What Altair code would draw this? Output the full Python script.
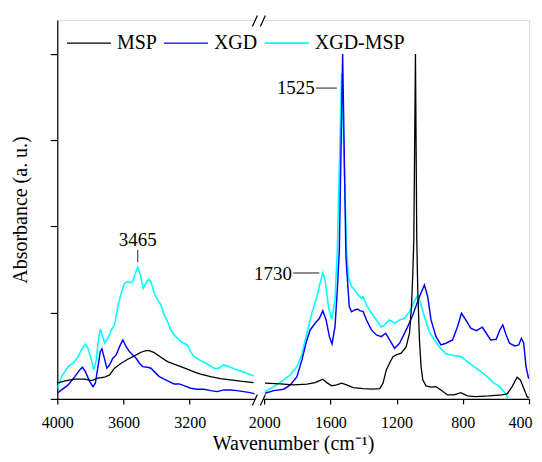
import altair as alt
import pandas as pd

FONT = "Liberation Serif"

series_names = ["MSP", "XGD", "XGD-MSP"]
series_colors = ["#000000", "#0000FF", "#00FFFF"]
series_widths = [1.3, 1.6, 1.2]

# ---- MSP ----
msp_left_wn = [4000, 3954, 3894, 3834, 3794, 3754, 3714, 3684, 3654, 3614, 3574, 3534, 3494, 3464,
               3444, 3414, 3374, 3334, 3294, 3254, 3214, 3174, 3134, 3074, 3014, 2954, 2894, 2814]
msp_left_a = [15.7, 18, 19.7, 19.7, 18.3, 20.7, 21.7, 24, 30.7, 35.7, 39.7, 43, 46.7, 48.3,
              48.3, 46.3, 41.7, 37.3, 34.7, 32.3, 29.7, 27, 24.7, 22.3, 20.3, 19, 17.7, 16.3]
msp_right_wn = [1995, 1902, 1822, 1742, 1692, 1666, 1646, 1622, 1592, 1562, 1532, 1502, 1462, 1402,
                1342, 1302, 1282, 1262, 1242, 1222, 1202, 1172, 1142, 1122, 1110, 1102, 1096, 1086,
                1078, 1072, 1062, 1052, 1042, 1022, 992, 962, 932, 892, 852, 812, 772, 722, 642,
                562, 532, 502, 472, 452, 432, 412, 402]
msp_right_a = [15.7, 15, 14, 14.7, 16.3, 18.3, 19.7, 16.3, 13, 14, 15.7, 14, 11.3, 10.3,
               9.7, 10.3, 15.7, 29, 36, 42.3, 44, 45.7, 52.3, 65.7, 92.3, 125.7, 159, 345,
               159, 109, 59, 32.3, 19, 13, 11.7, 12.3, 9, 4, 4, 6.3, 3, 2.3, 3,
               4, 5, 12.3, 21.7, 19, 10.7, 2.3, 1]

# ---- XGD ----
xgd_left_wn = [4000, 3974, 3934, 3894, 3864, 3848, 3830, 3804, 3784, 3770, 3754, 3740, 3730, 3718,
               3700, 3684, 3664, 3644, 3624, 3604, 3584, 3564, 3544, 3524, 3504, 3484, 3454, 3434,
               3414, 3384, 3354, 3324, 3294, 3264, 3234, 3194, 3154, 3114, 3074, 3034, 2994, 2954,
               2914, 2874, 2834, 2808]
xgd_left_a = [5.7, 9, 14, 22.3, 29, 31.7, 27.3, 17.3, 12.3, 15.7, 32.3, 47.3, 50, 42.3,
              30.7, 34, 40.7, 44, 52.3, 59, 52.3, 47.3, 44, 40.7, 35.7, 32.3, 31.7, 30.7,
              27.3, 22.3, 19.7, 17.3, 15, 15, 13.3, 10.7, 9.7, 9.7, 8.3, 7.3, 9, 9,
              8.3, 7.3, 6.3, 5]
xgd_right_wn = [1995, 1942, 1882, 1842, 1802, 1772, 1742, 1722, 1692, 1666, 1646, 1626, 1606, 1590,
                1572, 1558, 1546, 1526, 1506, 1486, 1472, 1452, 1436, 1422, 1402, 1382, 1352, 1322,
                1292, 1266, 1242, 1212, 1182, 1142, 1102, 1062, 1032, 1012, 992, 962, 932, 902,
                862, 832, 808, 782, 752, 718, 682, 658, 632, 598, 576, 558, 538, 518, 486, 462,
                446, 432, 418, 402]
xgd_right_a = [5.7, 8.3, 9.7, 14, 22.3, 39, 59, 69, 75.7, 80.7, 88.3, 79, 62.3, 55,
               72.3, 109, 149, 345, 142, 92.3, 87.3, 89, 90, 88.3, 87.3, 79, 69, 64,
               62.3, 65.7, 59, 50.7, 55.7, 69, 84, 102.3, 114, 102.3, 79, 62.3, 54, 55.7,
               59, 72.3, 85.7, 79, 70.7, 68.3, 71.7, 65.7, 59, 59.7, 69, 74, 64, 55.7, 53, 54,
               60.7, 55.7, 32.3, 20]

# ---- XGD-MSP ----
mix_left_wn = [4000, 3974, 3934, 3904, 3874, 3854, 3830, 3814, 3794, 3780, 3764, 3754, 3740, 3728,
               3714, 3694, 3674, 3654, 3634, 3614, 3594, 3574, 3558, 3544, 3528, 3514, 3498, 3480,
               3464, 3448, 3434, 3414, 3394, 3374, 3354, 3334, 3314, 3294, 3274, 3254, 3234, 3214,
               3194, 3174, 3134, 3094, 3054, 3024, 2994, 2964, 2924, 2884, 2844, 2814]
mix_left_a = [10.7, 22.3, 32.3, 35.7, 42.3, 49, 55, 50.7, 39, 29, 39, 55.7, 70, 64,
              55.7, 60.7, 69, 74, 92.3, 105.7, 115.7, 117.3, 116.3, 117.3, 125.7, 131.7, 124, 110.7,
              115.7, 119.7, 117.3, 105.7, 99, 94, 84, 77.3, 69, 64, 60.7, 57.3, 55.7, 54,
              47.3, 42.3, 38.3, 35, 30.7, 30.7, 34, 32.3, 29.7, 27.3, 25, 23]
mix_right_wn = [1995, 1942, 1882, 1842, 1802, 1772, 1742, 1712, 1682, 1662, 1646, 1632, 1612, 1592,
                1572, 1558, 1532, 1502, 1492, 1472, 1452, 1432, 1412, 1402, 1382, 1352, 1322, 1292,
                1272, 1246, 1222, 1212, 1182, 1152, 1122, 1098, 1078, 1058, 1032, 1002, 972, 942,
                902, 862, 812, 772, 732, 692, 652, 612, 582, 552, 526]
mix_right_a = [7.3, 12.3, 19, 24, 32.3, 44, 65.7, 85.7, 102.3, 115.7, 126.3, 119, 92.3, 79.7,
               99, 149, 326, 149, 122.3, 112.3, 109, 104, 100.7, 102.3, 94, 85.7, 79, 71.7,
               74, 79, 77.3, 75.7, 79, 80.7, 87.3, 95.7, 102.3, 97.3, 82.3, 67.3, 59, 52.3,
               45, 43.7, 42.3, 37.3, 32.3, 27.3, 22.3, 15.7, 13, 7.3, 0.7]

# annotations
ann_center_label = ["3465"]
ann_center_wn = [3514]
ann_center_a = [153]
ann_right_label = ["1525", "1730"]
ann_right_wn = [1694, 1832]
ann_right_a = [305, 119]
ann_line_wn = [3514, 1687, 1825]
ann_line_wn2 = [3514, 1561, 1667]
ann_line_a = [137, 311, 126]
ann_line_a2 = [149, 311, 126]

x_tick_wn_left = [4000, 3800, 3600, 3400, 3200, 3000]
x_tick_wn_right = [2000, 1800, 1600, 1400, 1200, 1000, 800, 600, 400]
y_ticks = [0, 86.3, 172.6, 258.9, 345.2]

# ---- build table (draw order: XGD-MSP, XGD, MSP) ----
rows = []
for name, segs in [("XGD-MSP", [(mix_left_wn, mix_left_a), (mix_right_wn, mix_right_a)]),
                   ("XGD", [(xgd_left_wn, xgd_left_a), (xgd_right_wn, xgd_right_a)]),
                   ("MSP", [(msp_left_wn, msp_left_a), (msp_right_wn, msp_right_a)])]:
    for i, (ws, vs) in enumerate(segs):
        for w, v in zip(ws, vs):
            rows.append({"series": name, "seg": f"{name}-{i}", "wn": w, "a": v})
df = pd.DataFrame(rows)

POS = "datum.wn >= 2400 ? 4000 - datum.wn : 3250 - datum.wn"
POS2 = "datum.wn2 >= 2400 ? 4000 - datum.wn2 : 3250 - datum.wn2"
WN_EXPR = "(datum.value < 1240 ? 4000 - datum.value : 3250 - datum.value)"

tick_pos = [4000 - w for w in x_tick_wn_left] + [3250 - w for w in x_tick_wn_right]

W, H = 472, 379
xscale = alt.Scale(domain=[0, 2850], nice=False, zero=False)
yscale = alt.Scale(domain=[0, 379], nice=False, zero=False)

xaxis = alt.Axis(values=tick_pos, labelExpr=f"{WN_EXPR} % 400 == 0 ? '' + {WN_EXPR} : ''",
                 title="Wavenumber (cm⁻¹)", grid=False, tickSize=5, tickWidth=1.2,
                 tickColor="black", domainColor="black", domainWidth=1.2,
                 labelFont=FONT, labelFontSize=16, labelColor="black",
                 labelBaseline="alphabetic", labelPadding=24, labelFlush=False, labelOverlap=False,
                 labelOffset={"condition": {"test": "datum.value > 2800", "value": -9}, "value": 0},
                 titleFont=FONT, titleFontSize=20, titleFontWeight="normal", titleColor="black",
                 titleX=W / 2, titleY=51, titleBaseline="alphabetic", titleAlign="center")
yaxis = alt.Axis(values=y_ticks, labels=False, title="Absorbance (a. u.)", grid=False,
                 tickSize=7, tickWidth=1.2, tickColor="black", domainColor="black", domainWidth=1.2,
                 titleFont=FONT, titleFontSize=20, titleFontWeight="normal", titleColor="black",
                 titleX=-31, titleY=H / 2, titleAngle=270, titleBaseline="alphabetic",
                 titleAlign="center")

lines = alt.Chart(df).transform_calculate(pos=POS).mark_line(clip=True).encode(
    x=alt.X("pos:Q", scale=xscale, axis=xaxis),
    y=alt.Y("a:Q", scale=yscale, axis=yaxis),
    color=alt.Color("series:N", scale=alt.Scale(domain=series_names, range=series_colors),
                    legend=alt.Legend(orient="none", legendX=8.7, legendY=0, direction="horizontal",
                                      symbolType="stroke", symbolSize=1936, symbolStrokeWidth=1.5,
                                      labelFont=FONT, labelFontSize=20, labelColor="black",
                                      labelOffset=5, columnPadding=3, title=None, padding=0)),
    strokeWidth=alt.StrokeWidth("series:N", scale=alt.Scale(domain=series_names, range=series_widths),
                                legend=None),
    detail="seg:N",
)

ann_c = pd.DataFrame({"label": ann_center_label, "wn": ann_center_wn, "a": ann_center_a})
ann_r = pd.DataFrame({"label": ann_right_label, "wn": ann_right_wn, "a": ann_right_a})
ann_l = pd.DataFrame({"wn": ann_line_wn, "wn2": ann_line_wn2, "a": ann_line_a, "a2": ann_line_a2})

txt_c = alt.Chart(ann_c).transform_calculate(pos=POS).mark_text(
    font=FONT, fontSize=19, align="center", baseline="alphabetic", color="black").encode(
    x=alt.X("pos:Q", scale=xscale), y=alt.Y("a:Q", scale=yscale), text="label:N")
txt_r = alt.Chart(ann_r).transform_calculate(pos=POS).mark_text(
    font=FONT, fontSize=19, align="right", baseline="alphabetic", color="black").encode(
    x=alt.X("pos:Q", scale=xscale), y=alt.Y("a:Q", scale=yscale), text="label:N")
ann_rules = alt.Chart(ann_l).transform_calculate(pos=POS, pos2=POS2).mark_rule(
    color="#444444", strokeWidth=1.2).encode(
    x=alt.X("pos:Q", scale=xscale), x2="pos2:Q",
    y=alt.Y("a:Q", scale=yscale), y2="a2:Q")

# axis-break decoration
gap_bottom = alt.Chart(ann_c).mark_rule(color="white", strokeWidth=4, clip=False).encode(
    x=alt.value(198.2), x2=alt.value(206.2), y=alt.value(379))
gap_top = alt.Chart(ann_c).mark_rule(color="white", strokeWidth=4, clip=False).encode(
    x=alt.value(198.2), x2=alt.value(206.2), y=alt.value(0))
slashes = []
for x0 in (195.2, 203.2):
    for yc in (380, 1):
        slashes.append(alt.Chart(ann_c).mark_rule(color="black", strokeWidth=1.2, clip=False).encode(
            x=alt.value(x0), x2=alt.value(x0 + 5), y=alt.value(yc + 5.5), y2=alt.value(yc - 5.5)))

chart = alt.layer(lines, ann_rules, txt_c, txt_r, gap_bottom, gap_top, *slashes).properties(
    width=W, height=H,
    autosize=alt.AutoSizeParams(type="none"),
    padding={"left": 49.3, "top": 12, "right": 5, "bottom": 55},
).configure_view(stroke="black", strokeWidth=1.2).configure(background="white", font=FONT)

chart.save("out.html", embed_options={"renderer": "svg", "actions": False})
